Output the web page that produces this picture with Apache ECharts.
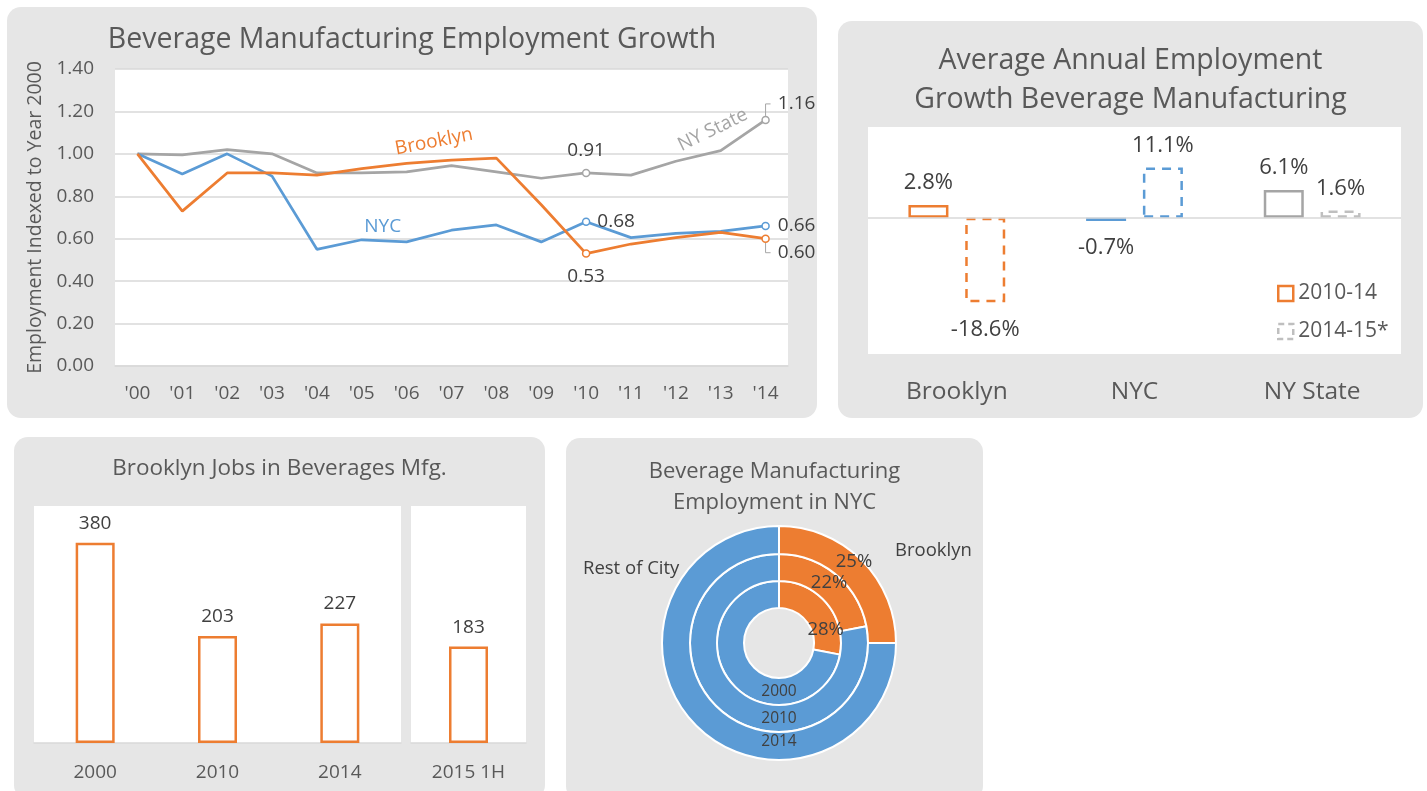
<!DOCTYPE html>
<html>
<head>
<meta charset="utf-8">
<title>Beverage Manufacturing Employment</title>
<script src="https://cdn.jsdelivr.net/npm/echarts@6/dist/echarts.min.js"></script>
<style>
  html, body { margin: 0; padding: 0; background: #fff; width: 1427px; height: 791px; overflow: hidden; }
  .panel { position: absolute; background: #e6e6e6; border-radius: 14px; overflow: hidden; }
</style>
</head>
<body>
<div id="growth" class="panel" style="left:7px;top:7px;width:810px;height:411px"></div>
<div id="annual" class="panel" style="left:838px;top:21px;width:585px;height:397px"></div>
<div id="jobs" class="panel" style="left:14px;top:437px;width:531px;height:362px"></div>
<div id="share" class="panel" style="left:566px;top:438px;width:417px;height:362px"></div>
<script>
// ---- data ----
const years = ["'00", "'01", "'02", "'03", "'04", "'05", "'06", "'07", "'08", "'09", "'10", "'11", "'12", "'13", "'14"];
const brooklynIndex = [1.00, 0.73, 0.91, 0.91, 0.90, 0.93, 0.955, 0.97, 0.98, 0.76, 0.53, 0.575, 0.605, 0.63, 0.60];
const nycIndex      = [1.00, 0.905, 1.00, 0.895, 0.55, 0.595, 0.585, 0.64, 0.665, 0.585, 0.68, 0.605, 0.625, 0.635, 0.66];
const nysIndex      = [1.00, 0.995, 1.02, 1.00, 0.91, 0.91, 0.915, 0.945, 0.915, 0.885, 0.91, 0.90, 0.965, 1.015, 1.16];
const indexTicks = [0, 0.2, 0.4, 0.6, 0.8, 1.0, 1.2, 1.4];

const regions = ['Brooklyn', 'NYC', 'NY State'];
const growth2010to14 = [0.028, -0.007, 0.061];
const growth2014to15 = [-0.186, 0.111, 0.016];

const jobYears = ['2000', '2010', '2014'];
const jobs = [380, 203, 227];
const jobYearsPartial = ['2015 1H'];
const jobsPartial = [183];

const shareYears = ['2000', '2010', '2014'];
const brooklynShare = [28, 22, 25];
const restOfCityShare = [72, 78, 75];

// ---- shared styling ----
const FONT = '"Open Sans", "DejaVu Sans", sans-serif';
const ORANGE = '#ED7D31', BLUE = '#5B9BD5', GRAY = '#A5A5A5', LIGHTGRAY = '#BFBFBF';
const TEXT = '#595959', LABEL = '#404040', RULE = '#D9D9D9';

// ================= Employment growth line chart =================
(function () {
  const chart = echarts.init(document.getElementById('growth'), null, { renderer: 'canvas' });
  const marked = [10, 14];
  const last = years.length - 1;

  function lineSeries(name, values, color, labelSpec, nameSpec) {
    return {
      type: 'line',
      name: name,
      data: values.map((v, i) => {
        const item = { value: v };
        if (labelSpec[i]) item.label = Object.assign({ show: true }, labelSpec[i]);
        if (nameSpec && nameSpec.index === i) {
          item.label = Object.assign({ show: true, position: 'inside', color: color, fontSize: 19 }, nameSpec.label);
        }
        return item;
      }),
      symbol: 'circle',
      symbolSize: (val, p) => (marked.indexOf(p.dataIndex) >= 0 ? 7 : 0),
      itemStyle: { color: '#fff', borderColor: color, borderWidth: 1.5 },
      lineStyle: { color: color, width: 2.75 },
      label: {
        show: false,
        fontFamily: FONT, fontSize: 19, color: LABEL,
        formatter: p => (nameSpec && p.dataIndex === nameSpec.index ? p.seriesName : p.value.toFixed(2))
      },
      emphasis: { disabled: true },
      z: 3
    };
  }

  // leader lines joining the last points to their raised / lowered value labels
  const leaders = {
    type: 'custom',
    silent: true,
    z: 2,
    data: [[last, nysIndex[last], -1], [last, brooklynIndex[last], 1]],
    renderItem: (params, api) => {
      const p = api.coord([api.value(0), api.value(1)]);
      const dir = api.value(2);
      const rise = dir < 0 ? 16 : 14;
      return {
        type: 'polyline',
        shape: { points: [[p[0], p[1] + dir * 4], [p[0], p[1] + dir * rise], [p[0] + 5, p[1] + dir * rise]] },
        style: { stroke: '#A6A6A6', lineWidth: 1, fill: null }
      };
    }
  };

  chart.setOption({
    animation: false,
    textStyle: { fontFamily: FONT },
    title: {
      text: 'Beverage Manufacturing Employment Growth',
      left: 'center', top: 13,
      textStyle: { fontFamily: FONT, fontSize: 28.5, fontWeight: 'normal', color: TEXT }
    },
    grid: { left: 108, top: 62, right: 29, bottom: 52, show: true, backgroundColor: '#fff', borderWidth: 0 },
    xAxis: {
      type: 'category', data: years, boundaryGap: true,
      axisLine: { lineStyle: { color: RULE, width: 1.5 } },
      axisTick: { inside: true, length: 6, lineStyle: { color: RULE, width: 1.5 } },
      axisLabel: { fontFamily: FONT, fontSize: 19, color: TEXT, margin: 18 }
    },
    yAxis: {
      type: 'value', min: indexTicks[0], max: indexTicks[indexTicks.length - 1], interval: 0.2,
      axisLabel: { fontFamily: FONT, fontSize: 19, color: TEXT, margin: 21, formatter: v => v.toFixed(2) },
      splitLine: { lineStyle: { color: RULE, width: 1.5 } },
      axisLine: { show: false }, axisTick: { show: false },
      name: 'Employment Indexed to Year 2000', nameLocation: 'middle', nameGap: 70,
      nameTextStyle: { fontFamily: FONT, fontSize: 19.5, color: TEXT }
    },
    series: [
      leaders,
      lineSeries('NY State', nysIndex, GRAY, {
        10: { position: 'top', distance: 9 },
        14: { position: 'right', distance: 8, offset: [0, -16] }
      }, { index: 13, label: { offset: [2, -22], rotate: 26 } }),
      lineSeries('NYC', nycIndex, BLUE, {
        10: { position: 'right', distance: 7 },
        14: { position: 'right', distance: 8 }
      }, { index: 5, label: { offset: [21, -13] } }),
      lineSeries('Brooklyn', brooklynIndex, ORANGE, {
        10: { position: 'bottom', distance: 9 },
        14: { position: 'right', distance: 8, offset: [0, 14] }
      }, { index: 6, label: { offset: [31, -16], rotate: 11 } })
    ]
  });
})();

// ================= Average annual growth bars =================
(function () {
  const chart = echarts.init(document.getElementById('annual'), null, { renderer: 'canvas' });
  const solidColors = [ORANGE, BLUE, GRAY];
  const dashColors = [ORANGE, BLUE, LIGHTGRAY];

  function barItems(values, dashed) {
    return values.map((v, i) => ({
      value: v,
      itemStyle: {
        color: 'rgba(255,255,255,0)',
        borderColor: dashed ? dashColors[i] : solidColors[i],
        borderWidth: 2.5,
        borderType: dashed ? [9, 7] : 'solid'
      },
      label: v < 0 ? { position: 'bottom', distance: 16 } : { position: 'top', distance: 11 }
    }));
  }

  const barLabel = {
    show: true, fontFamily: FONT, fontSize: 22, color: LABEL,
    formatter: p => (p.value * 100).toFixed(1) + '%'
  };

  chart.setOption({
    animation: false,
    textStyle: { fontFamily: FONT },
    title: {
      text: 'Average Annual Employment\nGrowth Beverage Manufacturing',
      left: 'center', top: 15,
      textStyle: { fontFamily: FONT, fontSize: 28.5, fontWeight: 'normal', color: TEXT, lineHeight: 39 }
    },
    legend: {
      orient: 'vertical', left: 434, top: 257,
      itemWidth: 15, itemHeight: 15, itemGap: 17,
      textStyle: { fontFamily: FONT, fontSize: 21, color: TEXT },
      data: [
        { name: '2010-14', icon: 'rect', itemStyle: { color: 'rgba(255,255,255,0)', borderColor: ORANGE, borderWidth: 2.5 } },
        { name: '2014-15*', icon: 'rect', itemStyle: { color: 'rgba(255,255,255,0)', borderColor: LIGHTGRAY, borderWidth: 2.5, borderType: [6, 4] } }
      ]
    },
    grid: { left: 30, top: 106, right: 22, bottom: 64, show: true, backgroundColor: '#fff', borderWidth: 0 },
    xAxis: {
      type: 'category', data: regions,
      axisLine: { show: false }, axisTick: { show: false },
      axisLabel: { fontFamily: FONT, fontSize: 24.5, color: TEXT, margin: 26 }
    },
    yAxis: { type: 'value', min: -0.3, max: 0.2, show: false },
    series: [
      {
        type: 'bar', name: '2010-14', data: barItems(growth2010to14, false),
        barWidth: 40, barGap: '42%', label: barLabel, emphasis: { disabled: true },
        markLine: {
          silent: true, symbol: 'none', label: { show: false },
          lineStyle: { color: RULE, type: 'solid', width: 1.5 },
          data: [{ yAxis: 0 }]
        }
      },
      {
        type: 'bar', name: '2014-15*', data: barItems(growth2014to15, true),
        barWidth: 40, barGap: '42%', label: barLabel, emphasis: { disabled: true }
      }
    ]
  });
})();

// ================= Brooklyn jobs bars =================
(function () {
  const chart = echarts.init(document.getElementById('jobs'), null, { renderer: 'canvas' });
  const gridBox = { top: 69, height: 237 };
  const axisLabel = { fontFamily: FONT, fontSize: 19, color: TEXT, margin: 20 };
  const barStyle = { color: '#fff', borderColor: ORANGE, borderWidth: 2.5 };
  const valueLabel = { show: true, position: 'top', distance: 10, fontFamily: FONT, fontSize: 19, color: LABEL };

  chart.setOption({
    animation: false,
    textStyle: { fontFamily: FONT },
    title: {
      text: 'Brooklyn Jobs in Beverages Mfg.',
      left: 'center', top: 15,
      textStyle: { fontFamily: FONT, fontSize: 22.5, fontWeight: 'normal', color: TEXT }
    },
    grid: [
      Object.assign({ left: 20, width: 367, show: true, backgroundColor: '#fff', borderWidth: 0 }, gridBox),
      Object.assign({ left: 397, width: 115, show: true, backgroundColor: '#fff', borderWidth: 0 }, gridBox)
    ],
    xAxis: [
      { gridIndex: 0, type: 'category', data: jobYears, axisLine: { lineStyle: { color: RULE, width: 1.5 } }, axisTick: { show: false }, axisLabel: axisLabel },
      { gridIndex: 1, type: 'category', data: jobYearsPartial, axisLine: { lineStyle: { color: RULE, width: 1.5 } }, axisTick: { show: false }, axisLabel: axisLabel }
    ],
    yAxis: [
      { gridIndex: 0, type: 'value', min: 0, max: 450, show: false },
      { gridIndex: 1, type: 'value', min: 0, max: 450, show: false }
    ],
    series: [
      { type: 'bar', xAxisIndex: 0, yAxisIndex: 0, data: jobs, barWidth: 39, itemStyle: barStyle, label: valueLabel, emphasis: { disabled: true } },
      { type: 'bar', xAxisIndex: 1, yAxisIndex: 1, data: jobsPartial, barWidth: 39, itemStyle: barStyle, label: valueLabel, emphasis: { disabled: true } }
    ]
  });
})();

// ================= NYC share doughnut =================
(function () {
  const chart = echarts.init(document.getElementById('share'), null, { renderer: 'canvas' });
  const CX = 213, CY = 205;
  const rings = [[35, 62], [62, 89], [89, 117]];
  // small nudges for the Brooklyn percentages so they clear the ring seams
  const shareNudge = [{ dx: 7, dy: 20 }, {}, { dy: -6 }];

  const series = shareYears.map((yr, k) => {
    const rMid = (rings[k][0] + rings[k][1]) / 2;
    return {
      type: 'pie', name: yr,
      center: [CX, CY], radius: rings[k],
      startAngle: 90, clockwise: true, avoidLabelOverlap: false,
      itemStyle: { borderColor: '#fff', borderWidth: 2 },
      emphasis: { disabled: true },
      labelLine: { show: false },
      data: [
        {
          name: 'Brooklyn', value: brooklynShare[k],
          itemStyle: { color: ORANGE },
          label: { show: true, position: 'inside', formatter: p => p.value + '%', fontFamily: FONT, fontSize: 18.5, color: LABEL }
        },
        {
          name: 'Rest of City', value: restOfCityShare[k],
          itemStyle: { color: BLUE },
          label: { show: true, position: 'inside', formatter: '{a}', fontFamily: FONT, fontSize: 15.5, color: LABEL }
        }
      ],
      // year tags sit at the bottom of each ring
      labelLayout: p => (p.dataIndex === 1
        ? { x: CX, y: CY + rMid - (k === 2 ? 4 : 0), align: 'center', verticalAlign: 'middle' }
        : shareNudge[k])
    };
  });

  chart.setOption({
    animation: false,
    textStyle: { fontFamily: FONT },
    title: {
      text: 'Beverage Manufacturing\nEmployment in NYC',
      left: 'center', top: 13, padding: [5, 0, 5, 12],
      textStyle: { fontFamily: FONT, fontSize: 22, fontWeight: 'normal', color: TEXT, lineHeight: 31 }
    },
    graphic: [
      { type: 'text', left: 329, top: 103, style: { text: 'Brooklyn', fontFamily: FONT, fontSize: 18.5, fill: LABEL } },
      { type: 'text', left: 17, top: 121, style: { text: 'Rest of City', fontFamily: FONT, fontSize: 18.5, fill: LABEL } }
    ],
    series: series
  });
})();
</script>
</body>
</html>
